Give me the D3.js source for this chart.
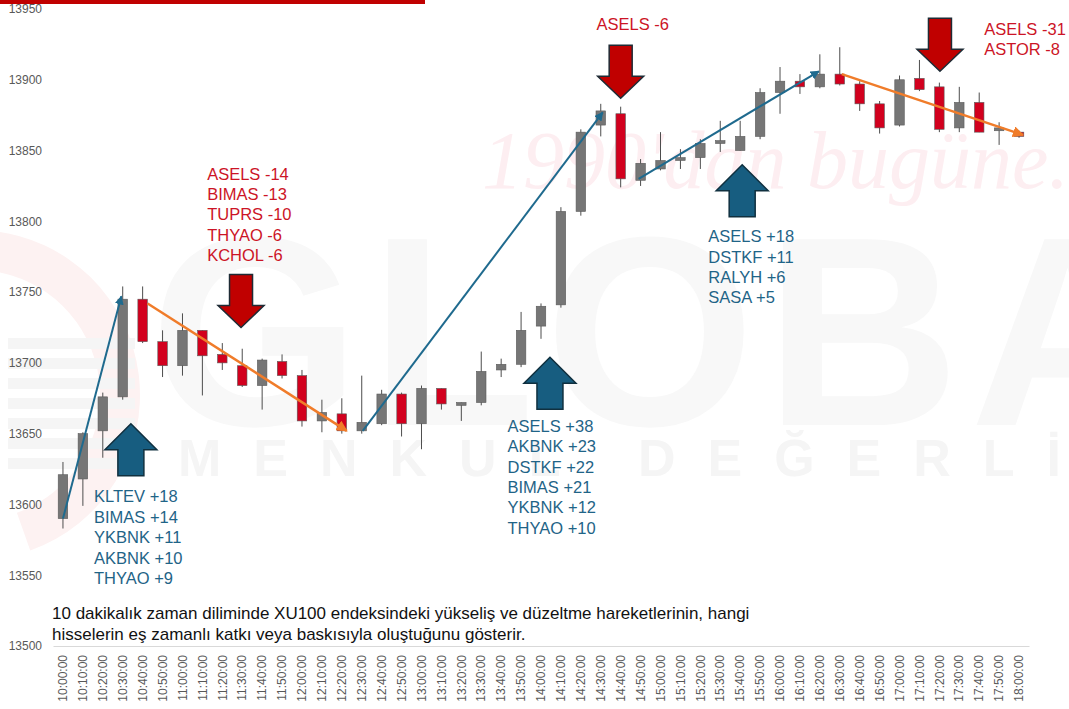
<!DOCTYPE html>
<html>
<head>
<meta charset="utf-8">
<script src="https://cdn.jsdelivr.net/npm/d3@7"></script>
<style>
  body { margin: 0; background: #fff; }
  svg { display: block; font-family: "Liberation Sans", Arial, sans-serif; }
</style>
</head>
<body>
<div id="chart"></div>
<script>
"use strict";

// 10 dakikalık mumlar
const times = ["10:00:00","10:10:00","10:20:00","10:30:00","10:40:00","10:50:00","11:00:00","11:10:00","11:20:00","11:30:00",
  "11:40:00","11:50:00","12:00:00","12:10:00","12:20:00","12:30:00","12:40:00","12:50:00","13:00:00","13:10:00",
  "13:20:00","13:30:00","13:40:00","13:50:00","14:00:00","14:10:00","14:20:00","14:30:00","14:40:00","14:50:00",
  "15:00:00","15:10:00","15:20:00","15:30:00","15:40:00","15:50:00","16:00:00","16:10:00","16:20:00","16:30:00",
  "16:40:00","16:50:00","17:00:00","17:10:00","17:20:00","17:30:00","17:40:00","17:50:00","18:00:00"];

const opens  = [13590,13618,13652,13676,13745,13715,13698,13723,13706,13698,13684,13701,13691,13659,13664,13652,13657,13678,13657,13682,
  13670,13672,13695,13699,13726,13741,13807,13868,13876,13829,13837,13843,13845,13855,13850,13860,13891,13899,13895,13904,
  13897,13883,13868,13901,13895,13866,13884,13864,13863];
const highs  = [13630,13651,13679,13754,13754,13723,13735,13723,13714,13710,13703,13706,13695,13674,13675,13691,13681,13679,13684,13682,
  13672,13708,13703,13736,13742,13810,13865,13883,13881,13844,13863,13851,13858,13871,13871,13894,13909,13904,13918,13923,
  13899,13885,13903,13914,13898,13895,13891,13870,13864];
const lows   = [13583,13599,13633,13674,13714,13690,13691,13677,13695,13683,13667,13689,13655,13651,13650,13650,13656,13648,13639,13667,
  13659,13670,13690,13697,13717,13739,13804,13860,13824,13825,13836,13837,13837,13849,13850,13858,13876,13890,13894,13896,
  13878,13862,13867,13892,13863,13863,13863,13854,13859];
const closes = [13621,13650,13676,13745,13715,13698,13723,13705,13700,13684,13702,13691,13659,13665,13652,13658,13678,13657,13682,13671,
  13672,13694,13699,13723,13740,13807,13863,13878,13830,13841,13843,13845,13855,13857,13860,13891,13899,13895,13904,13897,
  13883,13866,13900,13893,13865,13884,13863,13866,13860];

const yTicks = [13500,13550,13600,13650,13700,13750,13800,13850,13900,13950];

// trend okları: [başlangıç indeksi, değer, bitiş indeksi, değer]
const upTrends   = [[0, 13590, 2.93, 13747], [15.05, 13652, 27.1, 13877], [28.9, 13830, 37.95, 13906]];
const downTrends = [[4.25, 13742, 14.25, 13652], [39.1, 13904, 48.2, 13861]];

// blok oklar (uç noktası: indeks, değer)
const upArrows   = [[3.41, 13657], [24.45, 13704], [34.1, 13840]];
const downArrows = [[8.94, 13725], [28.0, 13887], [44.03, 13906]];

const gainNotes = [
  ["KLTEV +18","BIMAS +14","YKBNK +11","AKBNK +10","THYAO +9"],
  ["ASELS +38","AKBNK +23","DSTKF +22","BIMAS +21","YKBNK +12","THYAO +10"],
  ["ASELS +18","DSTKF +11","RALYH +6","SASA +5"]
];
const gainAnchors = [[1.56, 13605.5], [22.32, 13655.4], [32.4, 13789.4]];
const lossNotes = [
  ["ASELS -14","BIMAS -13","TUPRS -10","THYAO -6","KCHOL -6"],
  ["ASELS -6"],
  ["ASELS -31","ASTOR -8"]
];
const lossAnchors = [[7.24, 13833.6], [26.79, 13939.4], [46.25, 13935.9]];

const caption = [
  "10 dakikalık zaman diliminde XU100 endeksindeki yükseliş ve düzeltme hareketlerinin, hangi",
  "hisselerin eş zamanlı katkı veya baskısıyla oluştuğunu gösterir."
];

const width = 1069, height = 709;
const upColor = "#767676", downColor = "#d2001e";
const blueLine = "#1f6a8e", orangeLine = "#f07c2a";

const svg = d3.select("#chart").append("svg")
  .attr("width", width)
  .attr("height", height);

// --- arka plan filigranı ---
const wm = svg.append("g");
wm.append("rect").attr("x", 0).attr("y", 0).attr("width", 425).attr("height", 4).attr("fill", "#c00000");
wm.append("path")
  .attr("d", d3.arc()({ innerRadius: 125, outerRadius: 165, startAngle: 0.1, endAngle: 2.8 }))
  .attr("transform", "translate(-25,395)")
  .attr("fill", "#fdf2f2");
wm.selectAll(".stripe").data(d3.range(7)).join("rect")
  .attr("x", 8).attr("y", d => 338 + d * 20).attr("width", 127).attr("height", 11)
  .attr("fill", "#f5f5f5");
wm.append("text")
  .attr("x", 150).attr("y", 425)
  .attr("font-size", 270).attr("font-weight", "bold")
  .attr("letter-spacing", 10)
  .attr("fill", "#f8f8f8")
  .text("GLOBAL");
wm.append("text")
  .attr("x", 178).attr("y", 476)
  .attr("font-size", 52).attr("font-weight", "bold")
  .attr("letter-spacing", 32)
  .attr("fill", "#f5f5f5")
  .text("MENKUL DEĞERLİ");
wm.append("text")
  .attr("x", 482).attr("y", 188)
  .attr("font-family", "'Liberation Serif', serif")
  .attr("font-style", "italic")
  .attr("font-size", 82)
  .attr("fill", "#fdeef1")
  .text("1990'dan bugüne.");

// --- ölçekler ---
const x = d3.scaleBand().domain(times).range([53, 1029]).padding(0);
const xc = t => x(t) + x.bandwidth() / 2;
const xi = d3.scaleLinear().domain([0, times.length - 1]).range([xc(times[0]), xc(times[times.length - 1])]);
const y = d3.scaleLinear().domain([13500, 13950]).range([646, 9]);

// eksenler
const yAxis = svg.append("g")
  .attr("transform", "translate(46,0)")
  .call(d3.axisLeft(y).tickValues(yTicks).tickSize(0).tickPadding(4).tickFormat(d3.format("d")));
yAxis.select(".domain").remove();
yAxis.selectAll("text").attr("fill", "#595959").attr("font-size", 12).attr("font-family", "'Liberation Sans', Arial, sans-serif");

const xAxis = svg.append("g")
  .attr("transform", "translate(0,646)")
  .call(d3.axisBottom(x).tickSize(0).tickSizeOuter(0));
xAxis.select(".domain").attr("stroke", "#d9d9d9");
xAxis.selectAll("text")
  .attr("transform", "rotate(-90)")
  .attr("x", -9).attr("y", 0).attr("dy", "0.35em")
  .style("text-anchor", "end")
  .attr("fill", "#595959").attr("font-size", 12).attr("font-family", "'Liberation Sans', Arial, sans-serif");

// --- mumlar ---
const candles = times.map((t, i) => ({ t, o: opens[i], h: highs[i], l: lows[i], c: closes[i] }));
const bw = 9.5;
const cg = svg.append("g");
cg.selectAll(".wick").data(candles).join("line")
  .attr("x1", d => xc(d.t)).attr("x2", d => xc(d.t))
  .attr("y1", d => y(d.h)).attr("y2", d => y(d.l))
  .attr("stroke", "#4d4d4d").attr("stroke-width", 1);
cg.selectAll(".body").data(candles).join("rect")
  .attr("x", d => xc(d.t) - bw / 2)
  .attr("y", d => y(Math.max(d.o, d.c)))
  .attr("width", bw)
  .attr("height", d => Math.max(1.5, Math.abs(y(d.o) - y(d.c))))
  .attr("fill", d => d.c >= d.o ? upColor : downColor)
  .attr("stroke", "#5a5a5a").attr("stroke-width", 0.6);

// --- trend çizgileri ---
const defs = svg.append("defs");
[["headBlue", blueLine], ["headOrange", orangeLine]].forEach(([id, col]) => {
  defs.append("marker")
    .attr("id", id).attr("viewBox", "0 0 10 10")
    .attr("refX", 9).attr("refY", 5)
    .attr("markerWidth", 4.5).attr("markerHeight", 4.5)
    .attr("markerUnits", "strokeWidth")
    .attr("orient", "auto")
    .append("path").attr("d", "M0,0L10,5L0,10z").attr("fill", col);
});
const tg = svg.append("g");
tg.selectAll(".upTrend").data(upTrends).join("line")
  .attr("x1", d => xi(d[0])).attr("y1", d => y(d[1]))
  .attr("x2", d => xi(d[2])).attr("y2", d => y(d[3]))
  .attr("stroke", blueLine).attr("stroke-width", 2)
  .attr("marker-end", "url(#headBlue)");
tg.selectAll(".downTrend").data(downTrends).join("line")
  .attr("x1", d => xi(d[0])).attr("y1", d => y(d[1]))
  .attr("x2", d => xi(d[2])).attr("y2", d => y(d[3]))
  .attr("stroke", orangeLine).attr("stroke-width", 2.5)
  .attr("marker-end", "url(#headOrange)");

// --- blok oklar ---
const blockArrow = (tx, ty, dir, w, hh, sw, h) => {
  const s = dir;
  return d3.line()([
    [tx, ty], [tx + w / 2, ty + s * hh], [tx + sw / 2, ty + s * hh], [tx + sw / 2, ty + s * h],
    [tx - sw / 2, ty + s * h], [tx - sw / 2, ty + s * hh], [tx - w / 2, ty + s * hh]
  ]) + "Z";
};
const ag = svg.append("g");
ag.selectAll(".up").data(upArrows).join("path")
  .attr("d", d => blockArrow(xi(d[0]), y(d[1]), 1, 52, 26, 26, 52))
  .attr("fill", "#175d80").attr("stroke", "#10303f").attr("stroke-width", 1.5)
  .attr("stroke-linejoin", "miter");
ag.selectAll(".down").data(downArrows).join("path")
  .attr("d", d => blockArrow(xi(d[0]), y(d[1]), -1, 46, 22, 23, 53))
  .attr("fill", "#c00000").attr("stroke", "#1e2b35").attr("stroke-width", 1.5)
  .attr("stroke-linejoin", "miter");

// --- hisse notları ---
const drawNotes = (notes, anchors, col) => {
  notes.forEach((lines, k) => {
    svg.append("g").selectAll("text").data(lines).join("text")
      .attr("x", xi(anchors[k][0]))
      .attr("y", (d, i) => y(anchors[k][1]) + i * 20.4)
      .attr("dy", "0.35em")
      .attr("font-size", 16.5)
      .attr("fill", col)
      .text(d => d);
  });
};
drawNotes(gainNotes, gainAnchors, "#1f6487");
drawNotes(lossNotes, lossAnchors, "#cc1426");

// --- açıklama ---
svg.append("g").selectAll("text").data(caption).join("text")
  .attr("x", 52)
  .attr("y", (d, i) => 613 + i * 21)
  .attr("dy", "0.35em")
  .attr("font-size", 17)
  .attr("fill", "#111")
  .text(d => d);
</script>
</body>
</html>
